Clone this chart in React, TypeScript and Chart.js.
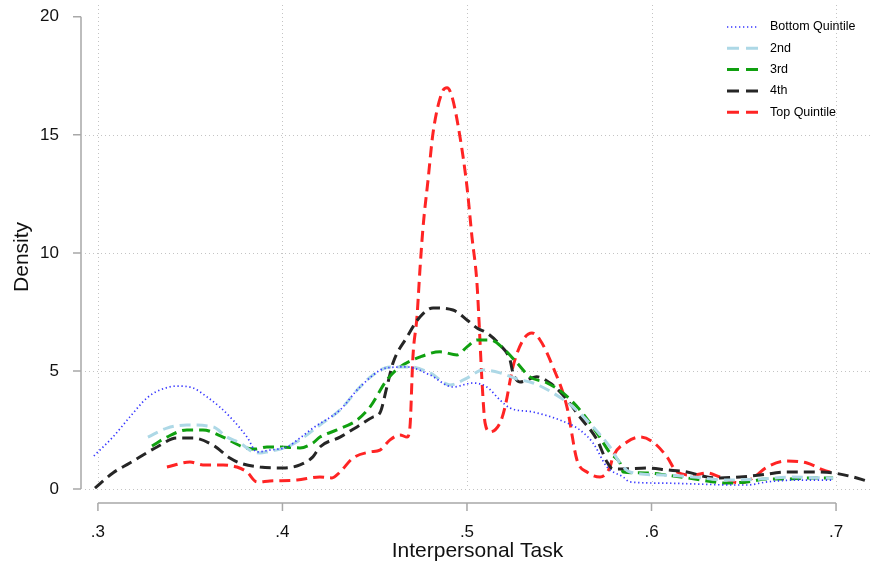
import React, { useEffect, useRef } from "react";
import { Chart, registerables } from "chart.js";

Chart.register(...registerables);

const X_TICKS = [0.3, 0.4, 0.5, 0.6, 0.7];
const Y_TICKS = [0, 5, 10, 15, 20];
const X_MIN = 0.293;
const X_MAX = 0.7184;
const Y_MAX = 20.5;

const SERIES_NAMES = ["Bottom Quintile", "2nd", "3rd", "4th", "Top Quintile"];

const BOTTOM_X = [0.2978, 0.3081, 0.3173, 0.3266, 0.3336, 0.3428, 0.3515, 0.3591, 0.3661, 0.3732, 0.3808, 0.3862, 0.3932, 0.4024, 0.4095, 0.4165, 0.4312, 0.442, 0.4566, 0.4675, 0.4799, 0.4924, 0.5033, 0.5108, 0.5179, 0.5233, 0.5358, 0.5504, 0.5612, 0.5683, 0.5759, 0.5846, 0.5883, 0.6062, 0.6247, 0.6442, 0.6518, 0.6626, 0.6805, 0.6984];
const BOTTOM_Y = [1.4, 2.2, 3.05, 3.86, 4.19, 4.36, 4.28, 3.9, 3.47, 2.92, 2.2, 1.57, 1.65, 1.78, 2.16, 2.58, 3.35, 4.32, 5.13, 5.17, 4.83, 4.32, 4.49, 4.32, 3.77, 3.43, 3.26, 2.92, 2.5, 1.95, 0.93, 0.51, 0.3, 0.25, 0.21, 0.17, 0.17, 0.3, 0.38, 0.38];

const SECOND_X = [0.3271, 0.3374, 0.3482, 0.3624, 0.3699, 0.377, 0.384, 0.3878, 0.3916, 0.4024, 0.4095, 0.4203, 0.4312, 0.442, 0.4491, 0.4583, 0.4691, 0.4799, 0.4908, 0.5, 0.5087, 0.5179, 0.5271, 0.5358, 0.5466, 0.5575, 0.5683, 0.5775, 0.5829, 0.5883, 0.6062, 0.6225, 0.6409, 0.6588, 0.6767, 0.6951, 0.6984];
const SECOND_Y = [2.2, 2.58, 2.71, 2.63, 2.2, 1.95, 1.57, 1.53, 1.57, 1.78, 2.08, 2.71, 3.35, 4.32, 4.83, 5.17, 5.17, 4.92, 4.41, 4.7, 5.04, 4.92, 4.66, 4.49, 4.07, 3.47, 2.63, 1.78, 1.1, 0.72, 0.59, 0.51, 0.38, 0.42, 0.51, 0.47, 0.47];

const THIRD_X = [0.3293, 0.3374, 0.3482, 0.3569, 0.3678, 0.3786, 0.3851, 0.3916, 0.3986, 0.4095, 0.4165, 0.4203, 0.4295, 0.4404, 0.4474, 0.4566, 0.4637, 0.4745, 0.4854, 0.4946, 0.5, 0.5054, 0.5125, 0.5195, 0.5271, 0.5341, 0.5434, 0.552, 0.5612, 0.5705, 0.5775, 0.5829, 0.5846, 0.5976, 0.6084, 0.6192, 0.6301, 0.6409, 0.6518, 0.6626, 0.6734, 0.6843, 0.6984];
const THIRD_Y = [1.82, 2.2, 2.5, 2.5, 2.2, 1.78, 1.69, 1.78, 1.78, 1.74, 1.95, 2.2, 2.5, 2.92, 3.47, 4.62, 5.17, 5.59, 5.81, 5.68, 6.02, 6.31, 6.31, 5.97, 5.34, 4.75, 4.49, 4.07, 3.35, 2.37, 1.53, 1.1, 0.72, 0.68, 0.59, 0.47, 0.34, 0.25, 0.3, 0.42, 0.42, 0.47, 0.47];

const FOURTH_X = [0.2984, 0.3081, 0.3173, 0.332, 0.3428, 0.3515, 0.3623, 0.3715, 0.377, 0.3878, 0.4003, 0.4095, 0.4165, 0.4203, 0.4312, 0.4404, 0.4491, 0.4528, 0.4566, 0.4599, 0.4675, 0.4745, 0.4816, 0.4924, 0.5, 0.5054, 0.5108, 0.5179, 0.5233, 0.5249, 0.5287, 0.5379, 0.545, 0.552, 0.5612, 0.5705, 0.5759, 0.5791, 0.5846, 0.5976, 0.6084, 0.6192, 0.6301, 0.6371, 0.648, 0.6588, 0.6734, 0.6875, 0.6984, 0.7092, 0.7168];
const FOURTH_Y = [0.04, 0.68, 1.1, 1.78, 2.16, 2.16, 1.86, 1.31, 1.1, 0.93, 0.89, 1.02, 1.36, 1.78, 2.2, 2.63, 3.05, 3.22, 4.32, 5.34, 6.44, 7.29, 7.67, 7.58, 7.16, 6.82, 6.61, 6.1, 5.47, 4.92, 4.53, 4.75, 4.49, 3.98, 3.05, 2.08, 1.14, 0.85, 0.85, 0.89, 0.81, 0.72, 0.51, 0.47, 0.51, 0.59, 0.72, 0.72, 0.68, 0.51, 0.34];

const TOP_X = [0.3374, 0.3499, 0.3569, 0.3678, 0.3753, 0.3808, 0.3862, 0.3932, 0.4079, 0.4203, 0.4268, 0.4312, 0.4382, 0.4474, 0.4528, 0.4583, 0.4637, 0.4675, 0.4691, 0.4707, 0.4729, 0.4745, 0.4762, 0.4789, 0.4816, 0.4864, 0.4892, 0.4919, 0.4962, 0.5, 0.5027, 0.5054, 0.5065, 0.5081, 0.5098, 0.5125, 0.5179, 0.5206, 0.5249, 0.5304, 0.5352, 0.5396, 0.5466, 0.5542, 0.5596, 0.565, 0.5721, 0.5775, 0.5791, 0.5867, 0.5938, 0.6008, 0.6084, 0.6138, 0.6225, 0.6301, 0.6371, 0.648, 0.655, 0.6626, 0.6734, 0.6843, 0.693, 0.6984];
const TOP_Y = [0.93, 1.14, 1.02, 1.02, 0.93, 0.72, 0.3, 0.34, 0.38, 0.51, 0.47, 0.72, 1.31, 1.57, 1.65, 2.08, 2.29, 2.2, 2.63, 5.59, 7.29, 9.28, 11.1, 13.09, 15.08, 16.78, 16.99, 16.61, 14.92, 12.8, 10.68, 8.73, 7.16, 4.62, 2.8, 2.42, 2.8, 3.47, 5.17, 6.31, 6.61, 6.31, 5.17, 3.47, 1.23, 0.72, 0.51, 0.93, 1.36, 1.99, 2.2, 1.99, 1.36, 0.72, 0.59, 0.68, 0.51, 0.25, 0.47, 0.93, 1.19, 1.1, 0.81, 0.68];

const COLORS = ["#3434ff", "#add8e6", "#10a010", "#262626", "#ff2424"];
const DASHES = [[1.3, 2.7], [11, 6], [11, 6], [11, 6], [11, 6]];
const WIDTHS = [1.7, 3, 3, 3, 3];

const FONT = "'Liberation Sans', Arial, Helvetica, sans-serif";
const Y_TITLE = "Density";

const pts = (xs: number[], ys: number[]) => xs.map((x, i) => ({ x, y: ys[i] }));

const stataPlugin = {
  id: "stataDecor",
  beforeDatasetsDraw(chart: any) {
    const { ctx, chartArea, scales } = chart;
    const x = scales.x;
    const y = scales.y;
    ctx.save();
    ctx.strokeStyle = "#c4c4c4";
    ctx.lineWidth = 1;
    ctx.setLineDash([1, 3]);
    ctx.beginPath();
    for (const v of Y_TICKS) {
      if (v === 20) continue;
      const py = Math.round(y.getPixelForValue(v)) + 0.5;
      ctx.moveTo(chartArea.left, py);
      ctx.lineTo(chartArea.right, py);
    }
    for (const v of X_TICKS) {
      const px = Math.round(x.getPixelForValue(v)) + 0.5;
      ctx.moveTo(px, chartArea.top);
      ctx.lineTo(px, chartArea.bottom);
    }
    ctx.stroke();
    ctx.restore();
  },
  afterDraw(chart: any) {
    const { ctx, chartArea, scales } = chart;
    const x = scales.x;
    const y = scales.y;
    ctx.save();
    ctx.strokeStyle = "#a8a8a8";
    ctx.lineWidth = 1.5;
    ctx.setLineDash([]);
    const ax = chartArea.left - 4;
    const ay = chartArea.bottom + 14;
    ctx.beginPath();
    ctx.moveTo(ax, y.getPixelForValue(20));
    ctx.lineTo(ax, y.getPixelForValue(0));
    for (const v of Y_TICKS) {
      const py = y.getPixelForValue(v);
      ctx.moveTo(ax - 8, py);
      ctx.lineTo(ax, py);
    }
    ctx.moveTo(x.getPixelForValue(0.3), ay);
    ctx.lineTo(x.getPixelForValue(0.7), ay);
    for (const v of X_TICKS) {
      const px = x.getPixelForValue(v);
      ctx.moveTo(px, ay);
      ctx.lineTo(px, ay + 8);
    }
    ctx.stroke();

    // y-axis title
    ctx.save();
    ctx.translate(22, (y.getPixelForValue(0) + y.getPixelForValue(20)) / 2 + 4);
    ctx.rotate(-Math.PI / 2);
    ctx.font = `21px ${FONT}`;
    ctx.fillStyle = "#111";
    ctx.textAlign = "center";
    ctx.textBaseline = "middle";
    ctx.fillText(Y_TITLE, 0, 0);
    ctx.restore();

    // legend
    const lx0 = 727;
    const lx1 = 758;
    ctx.font = `12.5px ${FONT}`;
    ctx.textBaseline = "middle";
    ctx.textAlign = "left";
    SERIES_NAMES.forEach((name, i) => {
      const ly = 27 + i * 21.3;
      ctx.beginPath();
      ctx.strokeStyle = COLORS[i];
      ctx.lineWidth = WIDTHS[i];
      ctx.setLineDash(i === 0 ? DASHES[0] : [12, 7]);
      ctx.moveTo(lx0, ly);
      ctx.lineTo(lx1, ly);
      ctx.stroke();
      ctx.fillStyle = "#000";
      ctx.fillText(name, 770, ly);
    });
    ctx.restore();
  },
};

export default function App() {
  const ref = useRef<HTMLCanvasElement | null>(null);
  useEffect(() => {
    document.body.style.margin = "0";
    if (!ref.current) return;
    const seriesX = [BOTTOM_X, SECOND_X, THIRD_X, FOURTH_X, TOP_X];
    const seriesY = [BOTTOM_Y, SECOND_Y, THIRD_Y, FOURTH_Y, TOP_Y];
    const chart = new Chart(ref.current, {
      type: "line",
      data: {
        datasets: SERIES_NAMES.map((name, i) => ({
          label: name,
          data: pts(seriesX[i], seriesY[i]),
          borderColor: COLORS[i],
          backgroundColor: COLORS[i],
          borderWidth: WIDTHS[i],
          borderDash: DASHES[i],
          pointRadius: 0,
          fill: false,
          cubicInterpolationMode: "monotone" as const,
        })),
      },
      options: {
        responsive: false,
        animation: false,
        devicePixelRatio: 1,
        layout: { autoPadding: false, padding: { top: 5, right: 6, left: 0, bottom: 0 } },
        plugins: { legend: { display: false }, title: { display: false }, tooltip: { enabled: false } },
        scales: {
          x: {
            type: "linear",
            min: X_MIN,
            max: X_MAX,
            grid: { display: false },
            border: { display: false },
            afterBuildTicks: (s: any) => {
              s.ticks = X_TICKS.map((v) => ({ value: v }));
            },
            afterFit: (s: any) => {
              s.height = 78;
              s.paddingLeft = 0;
              s.paddingRight = 0;
              s.paddingTop = 0;
              s.paddingBottom = 0;
            },
            ticks: {
              padding: 25,
              color: "#111",
              font: { family: FONT, size: 17 },
              maxRotation: 0,
              autoSkip: false,
              callback: (v: any) => Number(v).toFixed(1).replace(/^0/, ""),
            },
            title: {
              display: true,
              text: "Interpersonal Task",
              color: "#111",
              font: { family: FONT, size: 21 },
              padding: { top: 0, bottom: 3 },
            },
          },
          y: {
            type: "linear",
            min: 0,
            max: Y_MAX,
            grid: { display: false },
            border: { display: false },
            afterBuildTicks: (s: any) => {
              s.ticks = Y_TICKS.map((v) => ({ value: v }));
            },
            afterFit: (s: any) => {
              s.width = 85;
              s.paddingLeft = 0;
              s.paddingRight = 0;
              s.paddingTop = 0;
              s.paddingBottom = 0;
            },
            ticks: {
              padding: 18,
              color: "#111",
              font: { family: FONT, size: 17 },
              autoSkip: false,
            },
            title: { display: false, text: Y_TITLE },
          },
        },
      },
      plugins: [stataPlugin],
    });
    return () => chart.destroy();
  }, []);
  return <canvas ref={ref} width={876} height={567} style={{ display: "block" }} />;
}
